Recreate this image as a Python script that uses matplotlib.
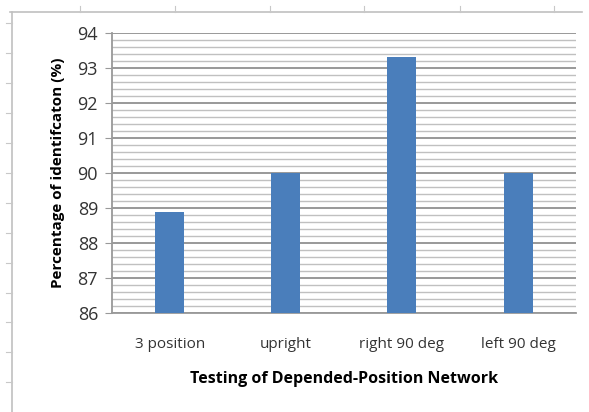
"""Bar chart: identification percentage per test position."""
import matplotlib
matplotlib.use("Agg")
import matplotlib.pyplot as plt
from matplotlib.lines import Line2D
import numpy as np

categories = ["3 position", "upright", "right 90 deg", "left 90 deg"]
values = [88.9, 90.0, 93.3, 90.0]
y_ticks = [86, 87, 88, 89, 90, 91, 92, 93, 94]

plt.rcParams["font.family"] = ["Open Sans", "DejaVu Sans"]

fig = plt.figure(figsize=(5.89, 4.12), dpi=100)
ax = fig.add_axes([0.190, 0.240, 0.788, 0.680])

x = np.arange(len(categories))
ax.bar(x, values, width=0.25, color="#4a7ebb", zorder=3)

ax.set_xlim(-0.5, len(categories) - 0.5)
ax.set_ylim(y_ticks[0], y_ticks[-1])
ax.set_yticks(y_ticks)
ax.set_yticks(np.arange(86, 94, 0.2), minor=True)
ax.set_yticklabels([str(t) for t in y_ticks], fontsize=13, color="#333333")
ax.set_xticks(x)
ax.set_xticklabels(categories, fontsize=11, color="#333333")

# Excel-style gridlines
ax.grid(axis="y", which="major", color="#999999", linewidth=1.4, zorder=0)
ax.grid(axis="y", which="minor", color="#c0c0c0", linewidth=1.0, zorder=0)
ax.tick_params(axis="y", which="major", length=5, color="#999999", pad=5)
ax.tick_params(axis="y", which="minor", length=0)
ax.tick_params(axis="x", length=0, pad=17)

for side in ["top", "right"]:
    ax.spines[side].set_visible(False)
for side in ["left", "bottom"]:
    ax.spines[side].set_color("#999999")
    ax.spines[side].set_linewidth(1.3)

ax.set_ylabel("Percentage of identifcaton (%)", fontsize=11, fontweight="bold",
              labelpad=9)
ax.set_xlabel("Testing of Depended-Position Network", fontsize=11.5,
              fontweight="bold", labelpad=14)

# outer frame with ruler-like ticks
W, H = 589, 412
fig.add_artist(Line2D([10 / W, 582 / W], [1 - 12 / H, 1 - 12 / H],
                      color="#c0c0c0", linewidth=1.2))
fig.add_artist(Line2D([12 / W, 12 / W], [1 - 12 / H, 0], color="#c0c0c0",
                      linewidth=1.2))
for px in [80, 175, 270, 364, 460, 554]:
    fig.add_artist(Line2D([px / W, px / W], [1 - 12 / H, 1 - 6 / H],
                          color="#c8c8c8", linewidth=0.8))
for py in [23, 53, 83, 113, 143, 173, 203, 233, 263, 293, 322, 352, 382]:
    fig.add_artist(Line2D([6 / W, 12 / W], [1 - py / H, 1 - py / H],
                          color="#c8c8c8", linewidth=0.8))

plt.savefig("out.png", dpi=100)
plt.close()
